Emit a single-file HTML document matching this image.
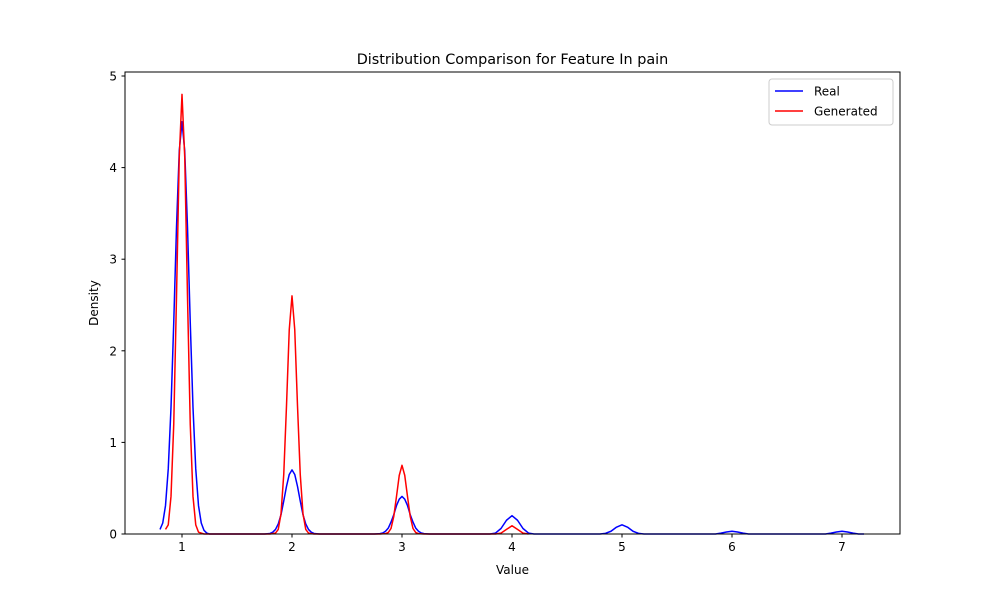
<!DOCTYPE html>
<html><head><meta charset="utf-8"><style>
body{margin:0;background:#fff}
svg text{font-family:"DejaVu Sans","Liberation Sans",sans-serif;fill:#000}
</style></head><body>
<svg width="1000" height="600" xmlns="http://www.w3.org/2000/svg" id="chart">
<rect width="1000" height="600" fill="#fff"/>
<text x="512.5" y="64" font-size="14.4" text-anchor="middle">Distribution Comparison for Feature In pain</text>
<g id="xticks"></g>
<g id="yticks"></g>
<g id="series"></g>
<rect x="125" y="72" width="775" height="462" fill="none" stroke="#000" stroke-width="1"/>
<text x="512.5" y="574" font-size="12" text-anchor="middle">Value</text>
<text transform="translate(98,303) rotate(-90)" font-size="12" text-anchor="middle">Density</text>
<g>
<rect x="769" y="79" width="124" height="46" rx="3" fill="#fff" stroke="#ccc"/>
<g><line x1="775" y1="91" x2="803" y2="91" stroke="blue" stroke-width="1.5"/><text x="814" y="95.5" font-size="12">Real</text></g>
<g><line x1="775" y1="111" x2="803" y2="111" stroke="red" stroke-width="1.5"/><text x="814" y="115.5" font-size="12">Generated</text></g>
</g>
</svg>
<script>
const xTicks=[1,2,3,4,5,6,7];
const yTicks=[0,1,2,3,4,5];
const realX=[0.8,0.825,0.85,0.875,0.9,0.925,0.95,0.975,1.0,1.025,1.05,1.075,1.1,1.125,1.15,1.175,1.2,1.225,1.25,
1.75,1.8,1.825,1.85,1.875,1.9,1.925,1.95,1.975,2.0,2.025,2.05,2.075,2.1,2.125,2.15,2.175,2.2,2.25,
2.75,2.8,2.825,2.85,2.875,2.9,2.925,2.95,2.975,3.0,3.025,3.05,3.075,3.1,3.125,3.15,3.175,3.2,3.25,
3.8,3.85,3.9,3.95,4.0,4.05,4.1,4.15,4.2,4.8,4.85,4.9,4.95,5.0,5.05,5.1,5.15,5.2,5.85,5.9,5.95,6.0,6.05,6.1,6.15,6.85,6.9,6.95,7.0,7.05,7.1,7.15,7.2];
const realY=[0.05,0.12,0.31,0.71,1.38,2.31,3.35,4.18,4.5,4.18,3.35,2.31,1.38,0.71,0.31,0.12,0.04,0.01,0,
0,0.006,0.02,0.05,0.11,0.21,0.36,0.52,0.65,0.7,0.65,0.52,0.36,0.21,0.11,0.05,0.02,0.006,0,
0,0.004,0.011,0.03,0.064,0.13,0.21,0.31,0.38,0.41,0.38,0.31,0.21,0.13,0.064,0.03,0.011,0.004,0,
0,0.01,0.06,0.15,0.2,0.15,0.06,0.01,0,0,0.007,0.03,0.075,0.1,0.075,0.03,0.007,0,0,0.01,0.022,0.03,0.022,0.01,0,0,0.01,0.022,0.03,0.022,0.01,0,0];
const genX=[0.85,0.875,0.9,0.925,0.95,0.975,1.0,1.025,1.05,1.075,1.1,1.125,1.15,1.2,
1.8,1.85,1.875,1.9,1.925,1.95,1.975,2.0,2.025,2.05,2.075,2.1,2.125,2.15,2.2,
2.8,2.85,2.875,2.9,2.925,2.95,2.975,3.0,3.025,3.05,3.075,3.1,3.125,3.15,3.2,
3.85,3.9,3.95,4.0,4.05,4.1,4.15];
const genY=[0.05,0.10,0.41,1.20,2.59,4.11,4.8,4.11,2.59,1.20,0.41,0.10,0.02,0,
0,0.01,0.05,0.22,0.65,1.40,2.23,2.6,2.23,1.40,0.65,0.22,0.05,0.01,0,
0,0.004,0.016,0.06,0.19,0.41,0.64,0.75,0.64,0.41,0.19,0.06,0.016,0.004,0,
0,0.01,0.05,0.09,0.05,0.01,0];
const NS="http://www.w3.org/2000/svg";
const sx=v=>182+(v-1)*110;
const sy=v=>534-v*91.6;
function mk(t,a,p){const e=document.createElementNS(NS,t);for(const k in a)e.setAttribute(k,a[k]);p.appendChild(e);return e;}
const gx=document.getElementById('xticks'),gy=document.getElementById('yticks'),gs=document.getElementById('series');
xTicks.forEach(v=>{
 const l=mk('line',{x1:sx(v),x2:sx(v),y1:534,y2:537.5,stroke:'#000'},gx);
 
 
 const t=mk('text',{x:sx(v),y:551,'font-size':12,'text-anchor':'middle'},gx);t.textContent=v;
 
 
});
yTicks.forEach(v=>{
 const l=mk('line',{x1:121.5,x2:125,y1:sy(v),y2:sy(v),stroke:'#000'},gy);
 
 
 const t=mk('text',{x:117,y:sy(v)+4.5,'font-size':12,'text-anchor':'end'},gy);t.textContent=v;
 
 
});
function line(xs,ys,c,name){
 const d=xs.map((x,i)=>(i?'L':'M')+sx(x).toFixed(2)+','+sy(ys[i]).toFixed(2)).join('');
 const p=mk('path',{d:d,fill:'none',stroke:c,'stroke-width':1.5,'stroke-linejoin':'round'},gs);
 
 
}
line(realX,realY,'blue','real-density-line');
line(genX,genY,'red','generated-density-line');
</script>
</body></html>
